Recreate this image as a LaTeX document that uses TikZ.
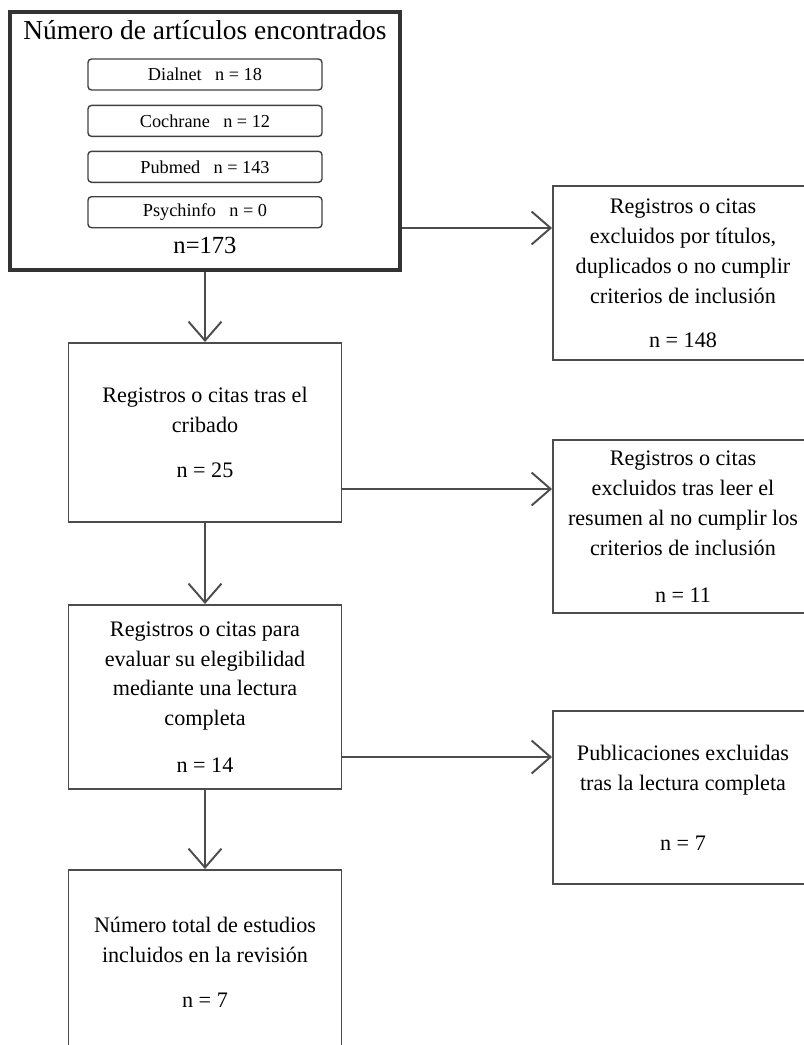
\documentclass[tikz,border=0pt]{standalone}
\usepackage{fontspec}
\setmainfont{Liberation Serif}
\usepackage{xcolor}
\usepackage{tikz}
\usetikzlibrary{positioning,arrows.meta}

\begin{document}
\begin{tikzpicture}[
  box/.style={draw=black!70, line width=1.1pt, align=center,
              font=\fontsize{12.6}{17}\selectfont},
  mainbox/.style={box, minimum width=5.46cm},
  exclbox/.style={box, minimum width=5.2cm, minimum height=3.47cm},
  dbbox/.style={draw=black!75, line width=0.8pt, rounded corners=2pt,
                minimum width=4.68cm, minimum height=0.62cm,
                font=\fontsize{10.4}{12}\selectfont},
  arr/.style={-{Straight Barb[length=3.8mm, width=6.6mm]}, draw=black!70,
              line width=1.1pt},
]
  \useasboundingbox (0,0) rectangle (16.08,-20.9);

  % identification
  \node[draw=black!80, line width=2.2pt, minimum width=7.8cm,
        minimum height=5.16cm] (found) at (4.10,-2.82) {};
  \node[anchor=base, font=\fontsize{15.6}{18}\selectfont] (title)
    at (4.10,-0.80) {Número de artículos encontrados};
  \node[dbbox] (dialnet) at (4.10,-1.49) {Dialnet\hspace{5pt} n = 18};
  \node[dbbox, below=0.28 of dialnet] (cochrane) {Cochrane\hspace{5pt} n = 12};
  \node[dbbox, below=0.27 of cochrane] (pubmed) {Pubmed\hspace{5pt} n = 143};
  \node[dbbox, below=0.26 of pubmed] (psych) {Psychinfo\hspace{5pt} n = 0};
  \node[anchor=base, font=\fontsize{14}{16}\selectfont] (total)
    at (4.10,-5.06) {n=173};

  % main column
  \node[mainbox, minimum height=3.58cm] (screened) at (4.10,-8.65)
    {Registros o citas tras el\\cribado\\[8.5pt]n = 25};
  \node[mainbox, minimum height=3.68cm] (fulltext) at (4.10,-13.94)
    {Registros o citas para\\evaluar su elegibilidad\\mediante una lectura\\completa\\[9.6pt]n = 14};
  \node[mainbox, minimum height=3.68cm] (included) at (4.10,-19.24)
    {Número total de estudios\\incluidos en la revisión\\[8.5pt]n = 7};

  % exclusions
  \node[exclbox, minimum height=3.48cm] (excl1) at (13.66,-5.46)
    {Registros o citas\\excluidos por títulos,\\duplicados o no cumplir\\criterios de inclusión\\[8pt]n = 148};
  \node[exclbox] (excl2) at (13.66,-10.53)
    {Registros o citas\\excluidos tras leer el\\resumen al no cumplir los\\criterios de inclusión\\[9.6pt]n = 11};
  \node[exclbox] (excl3) at (13.66,-15.95)
    {Publicaciones excluidas\\tras la lectura completa\\[17pt]n = 7};

  \coordinate (cut1) at (0,-4.56);
  \coordinate (cut2) at (0,-9.78);
  \coordinate (cut3) at (0,-15.14);

  \draw[arr] (found) -- (found |- screened.north);
  \draw[arr] (screened) -- (screened |- fulltext.north);
  \draw[arr] (fulltext) -- (fulltext |- included.north);

  \draw[arr] (found.east |- cut1) -- (excl1.west |- cut1);
  \draw[arr] (screened.east |- cut2) -- (excl2.west |- cut2);
  \draw[arr] (fulltext.east |- cut3) -- (excl3.west |- cut3);
\end{tikzpicture}
\end{document}
